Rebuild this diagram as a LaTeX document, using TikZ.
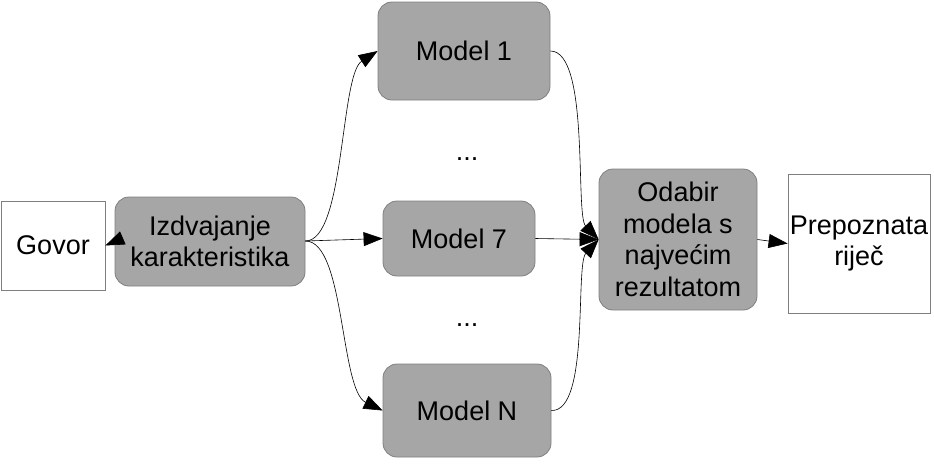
\documentclass[tikz,border=0pt]{standalone}
\usepackage{fontspec}
\setmainfont{Liberation Sans}
\usetikzlibrary{arrows.meta,positioning}
\definecolor{boxfill}{HTML}{A6A6A6}
\definecolor{boxline}{HTML}{7F7F7F}
\begin{document}
\begin{tikzpicture}[x=1pt,y=-1pt,
  txt/.style={font=\fontsize{27}{31.5}\selectfont, align=center, text=black},
  gbox/.style={txt, draw=boxline, fill=boxfill, rounded corners=14pt, line width=0.8pt, inner sep=0pt},
  wbox/.style={txt, draw=boxline, fill=white, line width=0.8pt, inner sep=0pt},
  conn/.style={draw=black, line width=0.6pt, -{Triangle[length=19pt,width=14pt]}},
]
\useasboundingbox (0,0) rectangle (934,467);
\node[wbox, minimum width=104pt, minimum height=89pt] (govor) at (53,245.5) {Govor};
\node[gbox, minimum width=190pt, minimum height=89pt] (izd) at (210,241.5) {Izdvajanje\\karakteristika};
\node[gbox, minimum width=172pt, minimum height=98pt] (m1) at (464,51) {Model 1};
\node[gbox, minimum width=152pt, minimum height=75pt] (m7) at (459,238.5) {Model 7};
\node[gbox, minimum width=168pt, minimum height=93pt] (mn) at (467,410.5) {Model N};
\node[txt] (d1) at (467,159) {...};
\node[txt] (d2) at (467,325) {...};
\node[gbox, minimum width=158pt, minimum height=141pt] (odb) at (678,239.5) {Odabir\\modela s\\najvećim\\rezultatom};
\node[wbox, minimum width=142pt, minimum height=139pt] (prep) at (859,243.5) {Prepoznata\\riječ};

\coordinate (izdR) at (izd.east |- 0,241);
\draw[conn] (izd.west) -- (govor.east);
\draw[conn] (izdR) .. controls (345,241) and (340,75) .. (m1.west);
\draw[conn] (izdR) -- (m7.west);
\draw[conn] (izdR) .. controls (345,241) and (340,390) .. (mn.west);
\draw[conn] (m1.east) .. controls (590,51) and (575,215) .. (odb.west);
\draw[conn] (m7.east) -- (odb.west);
\draw[conn] (mn.east) .. controls (590,412) and (575,265) .. (odb.west);
\draw[conn] (odb.east) -- (prep.west);
\end{tikzpicture}
\end{document}
